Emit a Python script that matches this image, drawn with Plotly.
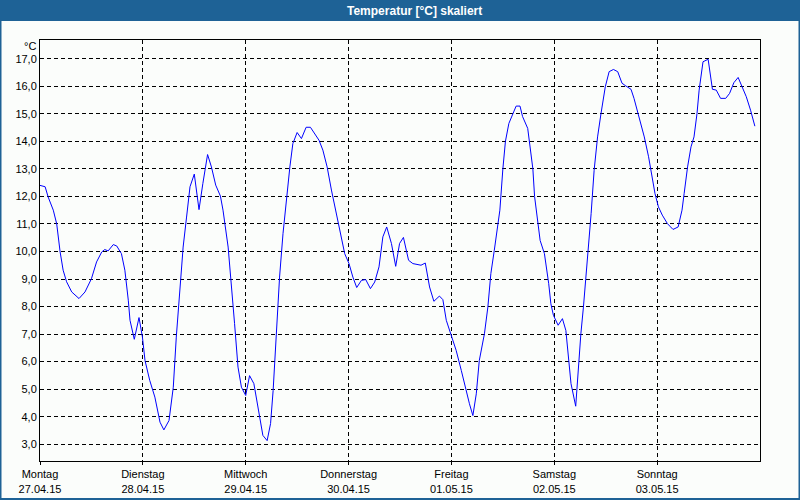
import plotly.graph_objects as go

# Hours since Montag 27.04.15 00:00
hours = [0.0, 1.2, 1.9, 3.1, 3.9, 4.7, 5.4, 6.2, 7.4, 9.1, 10.5, 12.0, 13.2, 14.4, 15.1, 15.9, 17.1, 17.9,
         19.0, 19.8, 20.6, 21.0, 22.0, 23.1, 23.9, 24.5, 25.6, 26.8, 28.0, 28.9, 30.1, 31.1, 31.8, 32.6,
         33.4, 34.2, 35.0, 36.0, 36.5, 37.1, 38.0, 39.1, 40.0, 41.0, 42.1, 42.7, 43.9, 44.7, 45.4, 46.2,
         47.0, 48.0, 48.9, 49.9, 50.9, 52.0, 53.0, 53.8, 54.4, 55.2, 55.9, 56.7, 57.5, 58.3, 59.0, 60.0,
         61.0, 62.1, 63.1, 64.1, 65.1, 66.0, 67.0, 68.0, 69.1, 70.3, 71.1, 72.1, 73.0, 73.9, 75.0, 76.0,
         77.1, 78.1, 79.1, 80.0, 80.9, 82.0, 83.0, 83.9, 84.8, 86.0, 87.0, 88.9, 89.9, 90.9, 91.9, 93.2,
         94.0, 94.8, 95.9, 97.1, 98.3, 99.4, 100.2, 101.0, 101.8, 102.5, 103.7, 104.5, 105.2, 106.0, 106.8,
         107.3, 108.0, 108.6, 109.4, 110.3, 111.1, 112.0, 112.6, 113.8, 114.2, 115.0, 115.4, 115.8, 116.2,
         116.7, 117.7, 118.2, 118.7, 119.2, 119.8, 120.9, 121.9, 122.7, 123.3, 123.9, 125.0, 125.6, 126.2,
         126.8, 127.4, 128.0, 128.6, 129.3, 130.1, 130.9, 131.9, 132.8, 133.8, 134.8, 135.8, 136.7, 137.9,
         138.6, 139.8, 141.0, 142.0, 142.9, 143.5, 144.3, 145.2, 146.4, 147.7, 148.9, 149.8, 150.3, 151.1,
         151.9, 152.6, 153.3, 153.8, 154.7, 155.9, 156.9, 157.8, 158.8, 160.0, 160.9, 161.9, 162.9, 163.9,
         164.8, 165.8, 166.8]

temps = [12.4, 12.35, 11.98, 11.5, 11.0, 9.98, 9.32, 8.9, 8.53, 8.29, 8.53, 9.01, 9.62, 9.98, 10.07, 10.02, 10.25, 10.2,
         9.92, 9.32, 8.23, 7.5, 6.81, 7.6, 6.89, 6.04, 5.32, 4.71, 3.8, 3.52, 3.86, 5.07, 6.89, 8.71,
         10.16, 11.25, 12.35, 12.81, 12.23, 11.52, 12.47, 13.52, 13.07, 12.41, 12.01, 11.5, 10.16, 8.83, 7.38, 5.8,
         5.07, 4.77, 5.49, 5.2, 4.23, 3.32, 3.13, 3.75, 4.95, 7.01, 9.07, 10.65, 11.98, 13.07, 13.92, 14.32,
         14.1, 14.51, 14.51, 14.29, 14.04, 13.68, 13.07, 12.23, 11.38, 10.4, 9.92, 9.56, 9.07, 8.69, 8.95, 8.98,
         8.65, 8.89, 9.44, 10.53, 10.89, 10.29, 9.46, 10.29, 10.51, 9.68, 9.56, 9.5, 9.58, 8.71, 8.19, 8.38,
         8.25, 7.5, 7.01, 6.41, 5.68, 4.95, 4.47, 4.04, 4.83, 6.04, 7.01, 7.98, 9.2, 10.04, 11.01,
         11.5, 13.0, 14.0, 14.65, 15.0, 15.28, 15.28, 14.9, 14.47, 14.0, 13.0, 12.0, 11.5, 11.01,
         10.4, 9.92, 9.44, 8.83, 8.1, 7.68, 7.32, 7.56, 7.13, 6.04, 5.2, 4.38, 5.92, 7.01,
         7.98, 9.07, 10.4, 11.38, 12.95, 14.16, 15.01, 15.98, 16.53, 16.61, 16.53, 16.11, 16.01, 15.89,
         15.56, 14.89, 14.16, 13.44, 12.71, 12.1, 11.62, 11.32, 11.01, 10.8, 10.89, 11.5, 12.1, 13.07,
         13.8, 14.16, 15.01, 15.86, 16.89, 16.98, 15.89, 15.86, 15.56, 15.56, 15.74, 16.13, 16.32, 15.98,
         15.62, 15.13, 14.55]

day_hours = [0, 24, 48, 72, 96, 120, 144]
day_labels = ["Montag<br>27.04.15", "Dienstag<br>28.04.15", "Mittwoch<br>29.04.15",
              "Donnerstag<br>30.04.15", "Freitag<br>01.05.15", "Samstag<br>02.05.15",
              "Sonntag<br>03.05.15"]
y_ticks = [3, 4, 5, 6, 7, 8, 9, 10, 11, 12, 13, 14, 15, 16, 17]
y_labels = ["3,0", "4,0", "5,0", "6,0", "7,0", "8,0", "9,0", "10,0", "11,0", "12,0",
            "13,0", "14,0", "15,0", "16,0", "17,0"]
title_text = "Temperatur [°C] skaliert"

BLUE_BAR = "rgb(30,98,150)"
BG = "#fbfdfb"
FONT = "Liberation Sans"

W, H = 800, 500
L, R, T, B = 40, 40, 40, 39
pw, ph = W - L - R, H - T - B


def px_x(x):
    return (x - L) / pw


def px_y(y):
    return (H - B - y) / ph


fig = go.Figure()
fig.add_trace(go.Scatter(x=hours, y=temps, mode="lines",
                         line=dict(color="#0000ff", width=1), showlegend=False,
                         hoverinfo="skip"))

fig.update_layout(
    width=W, height=H, autosize=False,
    margin=dict(l=L, r=R, t=T, b=B, pad=0, autoexpand=False),
    paper_bgcolor=BG, plot_bgcolor=BG,
    font=dict(family=FONT, size=11, color="black"),
    xaxis=dict(range=[0, 168], tickvals=day_hours, ticktext=day_labels, automargin=False,
               showgrid=True, gridcolor="black", gridwidth=1, griddash="4px,3px",
               showline=True, linecolor="black", linewidth=1, mirror=True,
               ticks="outside", ticklen=3, tickcolor="black", zeroline=False,
               tickfont=dict(family=FONT, size=11, color="black")),
    yaxis=dict(range=[2.39, 17.68], tickvals=y_ticks, ticktext=y_labels, automargin=False,
               showgrid=True, gridcolor="black", gridwidth=1, griddash="4px,3px",
               showline=True, linecolor="black", linewidth=1, mirror=True,
               ticks="", zeroline=False, ticklabelstandoff=0,
               tickfont=dict(family=FONT, size=11, color="black")),
    shapes=[
        dict(type="rect", xref="paper", yref="paper",
             x0=px_x(0), x1=px_x(800), y0=px_y(21), y1=px_y(-2),
             fillcolor=BLUE_BAR, line=dict(width=0), layer="above"),
        dict(type="rect", xref="paper", yref="paper",
             x0=px_x(0.5), x1=px_x(799.5), y0=px_y(499), y1=px_y(0),
             fillcolor="rgba(0,0,0,0)", line=dict(color=BLUE_BAR, width=2), layer="above"),
    ],
    annotations=[
        dict(text="<b>" + title_text + "</b>", xref="paper", yref="paper",
             x=px_x(414), y=px_y(10.5), xanchor="center", yanchor="middle",
             showarrow=False, font=dict(family=FONT, size=12, color="white")),
        dict(text="°C", xref="paper", yref="paper",
             x=px_x(38), y=px_y(46), xanchor="right", yanchor="middle",
             showarrow=False, font=dict(family=FONT, size=11, color="black")),
    ],
)

fig.write_html("out.html", config={"displayModeBar": False},
               post_script="document.body.style.margin='0';document.body.style.overflow='hidden';")
